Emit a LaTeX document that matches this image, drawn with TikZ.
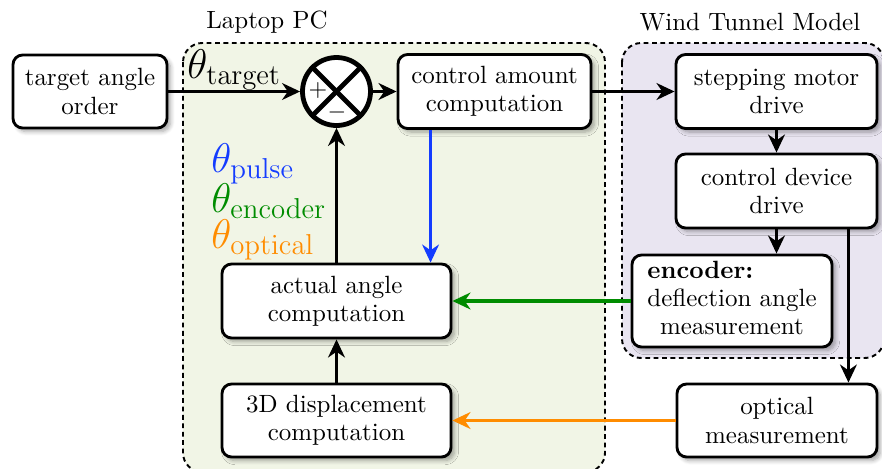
\documentclass[tikz,border=0pt]{standalone}
\usetikzlibrary{arrows.meta,shadows.blur,calc}
\definecolor{cblue}{RGB}{20,60,255}
\definecolor{cgreen}{RGB}{0,140,0}
\definecolor{corange}{RGB}{255,140,0}
\definecolor{laptopbg}{RGB}{241,245,230}
\definecolor{windbg}{RGB}{233,229,241}
\newcommand\pxu{0.4167pt}
\begin{document}
\begin{tikzpicture}[x=0.4167pt,y=-0.4167pt,
  font=\fontsize{10.4}{11.8}\selectfont,
  blk/.style={draw, line width=1.2pt, rounded corners=4pt, fill=white, align=center, inner sep=0pt,
    blur shadow={shadow xshift=1.5pt, shadow yshift=-1.5pt, shadow blur steps=6, shadow opacity=35}},
  region/.style={draw, dashed, dash pattern=on 2pt off 1.5pt, line width=0.8pt, rounded corners=8pt},
  arr/.style={-{Stealth[length=7.5pt,width=7pt,inset=2.4pt]}, line width=1.6pt},
  thlab/.style={anchor=base west, inner sep=0pt, font=\LARGE}]
\useasboundingbox (0,0) rectangle (882,468);
% regions
\path[region, fill=laptopbg] (183,43) rectangle (605,472);
\path[region, fill=windbg] (622,43) rectangle (884,358);
\node[anchor=center] (lpc) at (267,22) {Laptop PC};
\node[anchor=center] (wtm) at (750,22) {Wind Tunnel Model};
% boxes
\node[blk, minimum width={154*\pxu}, minimum height={73*\pxu}] (tgt) at (90,91.5) {target angle\\order};
\node[draw, circle, line width=2pt, fill=white, minimum size={68*\pxu}, inner sep=0pt] (sum) at (336.5,91.5) {};
\node[blk, minimum width={193*\pxu}, minimum height={74*\pxu}] (ctrl) at (494.5,91.5) {control amount\\computation};
\node[blk, minimum width={201*\pxu}, minimum height={74*\pxu}] (step) at (776.5,91.5) {stepping motor\\drive};
\node[blk, minimum width={201*\pxu}, minimum height={74*\pxu}] (dev) at (776.5,191) {control device\\drive};
\node[blk, minimum width={200*\pxu}, minimum height={92*\pxu}] (enc) at (732,301)
  {\begin{tabular}{@{}c@{}}\multicolumn{1}{@{}l@{}}{\textbf{encoder:}}\\ deflection angle\\ measurement\end{tabular}};
\node[blk, minimum width={200*\pxu}, minimum height={73*\pxu}] (opt) at (777,420.5) {optical\\measurement};
\node[blk, minimum width={229*\pxu}, minimum height={74*\pxu}] (act) at (336.5,301) {actual angle\\computation};
\node[blk, minimum width={229*\pxu}, minimum height={73*\pxu}] (disp) at (336.5,420.5) {3D displacement\\computation};
% summing junction details
\draw[line width=2pt] (sum.north west) -- (sum.south east);
\draw[line width=2pt] (sum.north east) -- (sum.south west);
\node[inner sep=0pt] (plus) at (318,90) {$+$};
\node[inner sep=0pt] (minus) at (337,112) {$-$};
% labels
\node[thlab] (tht) at (187,78) {$\theta_{\mathrm{target}}$};
\node[thlab, text=cblue] (thp) at (211,172) {$\theta_{\mathrm{pulse}}$};
\node[thlab, text=cgreen] (the) at (211,212) {$\theta_{\mathrm{encoder}}$};
\node[thlab, text=corange] (tho) at (211,248) {$\theta_{\mathrm{optical}}$};
% connectors
\draw[arr] (tgt) -- (sum);
\draw[arr] (sum) -- (ctrl);
\draw[arr] (ctrl) -- (step);
\draw[arr] (step) -- (dev);
\draw[arr] (dev.south) -- (dev.south |- enc.north);
\draw[arr] ([xshift={-30*\pxu}]dev.south east) -- ([xshift={-30*\pxu}]dev.south east |- opt.north);
\draw[arr, cgreen] (enc) -- (act);
\draw[arr, corange] (opt) -- (disp);
\draw[arr] (disp) -- (act);
\draw[arr] (act) -- (sum);
\draw[arr, cblue] ([xshift={34*\pxu}]ctrl.south west) -- ([xshift={34*\pxu}]ctrl.south west |- act.north);
\end{tikzpicture}
\end{document}
